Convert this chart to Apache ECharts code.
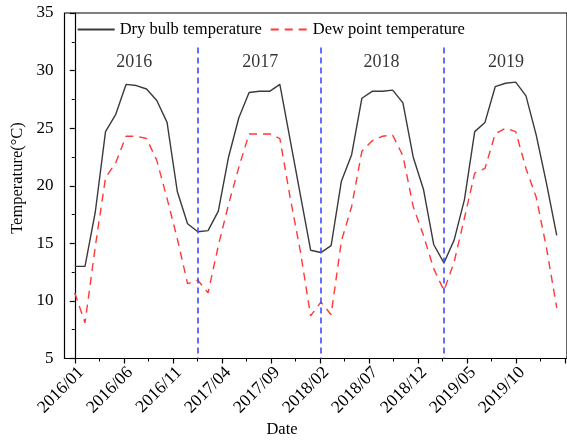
<!DOCTYPE html>
<html>
<head>
<meta charset="utf-8">
<script src="https://cdn.jsdelivr.net/npm/echarts@6/dist/echarts.min.js"></script>
<style>
  html, body { margin: 0; padding: 0; background: #fff; }
  #chart { width: 567px; height: 441px; }
</style>
</head>
<body>
<div id="chart"></div>
<script>
// Monthly mean temperatures, 2016/01 – 2019/12
const months = [
  '2016/01','2016/02','2016/03','2016/04','2016/05','2016/06','2016/07','2016/08','2016/09','2016/10','2016/11','2016/12',
  '2017/01','2017/02','2017/03','2017/04','2017/05','2017/06','2017/07','2017/08','2017/09','2017/10','2017/11','2017/12',
  '2018/01','2018/02','2018/03','2018/04','2018/05','2018/06','2018/07','2018/08','2018/09','2018/10','2018/11','2018/12',
  '2019/01','2019/02','2019/03','2019/04','2019/05','2019/06','2019/07','2019/08','2019/09','2019/10','2019/11','2019/12'
];

const dryBulb = [
  13.0, 13.0, 17.7, 24.7, 26.2, 28.8, 28.7, 28.4, 27.4, 25.5, 19.5, 16.7,
  16.0, 16.1, 17.8, 22.5, 25.9, 28.1, 28.2, 28.2, 28.8, 24.0, 19.2, 14.4,
  14.2, 14.8, 20.4, 22.7, 27.6, 28.2, 28.2, 28.3, 27.2, 22.5, 19.7, 14.9,
  13.3, 15.3, 18.8, 24.7, 25.5, 28.6, 28.9, 29.0, 27.8, 24.4, 20.2, 15.7
];

const dewPoint = [
  10.7,  8.1, 14.7, 20.7, 22.0, 24.3, 24.3, 24.1, 22.2, 18.9, 15.4, 11.5,
  11.8, 10.7, 14.8, 18.4, 21.6, 24.5, 24.5, 24.5, 24.1, 19.0, 14.3,  8.7,
   9.9,  8.8, 15.2, 18.2, 23.0, 23.9, 24.3, 24.4, 22.6, 18.2, 15.7, 12.8,
  10.9, 13.4, 17.2, 21.1, 21.5, 24.5, 25.0, 24.7, 21.5, 19.0, 14.6,  9.4
];

const years = ['2016', '2017', '2018', '2019'];

const FONT = 'Liberation Serif';

// year captions sit near the middle of each year's span
const yearAnchorX = [5.8, 18.1, 29.9, 42.05];
const yearAnchorY = 30.7;

// vertical separators at the first month of each new year
const dividers = years.slice(1).map(y => months.indexOf(y + '/01'));

const toPoints = arr => arr.map((v, i) => [i, v]);

const chart = echarts.init(document.getElementById('chart'), null, { renderer: 'canvas' });

chart.setOption({
  animation: false,
  backgroundColor: '#ffffff',
  grid: [
    // plotting frame
    { left: 64.5, top: 13, width: 506.7, height: 345.5, show: true, borderColor: '#000', borderWidth: 1.2, backgroundColor: 'transparent' },
    // date ticks (index 0 .. 50)
    { left: 74.84, top: 13, width: 517, height: 345.5, show: false }
  ],
  legend: {
    left: 76.7, top: 21, padding: 0,
    itemWidth: 37, itemHeight: 14, itemGap: 8,
    itemStyle: { opacity: 0 },
    textStyle: { fontFamily: FONT, fontSize: 16.5, color: '#000' },
    data: ['Dry bulb temperature', 'Dew point temperature']
  },
  xAxis: [
    {
      gridIndex: 0, type: 'value', min: -1, max: 48,
      axisLine: { show: true, lineStyle: { color: '#000', width: 1.2 } },
      axisTick: { show: false }, axisLabel: { show: false }, splitLine: { show: false }
    },
    {
      gridIndex: 1, type: 'value', min: 0, max: 50, interval: 5,
      axisLine: { show: false },
      axisTick: { show: true, inside: false, length: 5, lineStyle: { color: '#000', width: 1.2 } },
      minorTick: { show: true, splitNumber: 2, length: 3, lineStyle: { color: '#000', width: 1 } },
      splitLine: { show: false },
      axisLabel: {
        show: true, rotate: 45, margin: 5,
        align: 'right', verticalAlign: 'top',
        fontFamily: FONT, fontSize: 17.5, color: '#000',
        formatter: v => months[v] || ''
      }
    }
  ],
  yAxis: [
    {
      gridIndex: 0, type: 'value', min: 5, max: 35, interval: 5,
      axisLine: { show: true, lineStyle: { color: '#000', width: 1.2 } },
      axisTick: { show: true, inside: false, length: 5, lineStyle: { color: '#000', width: 1.2 } },
      minorTick: { show: true, splitNumber: 2, length: 3, lineStyle: { color: '#000', width: 1 } },
      splitLine: { show: false },
      axisLabel: { margin: 11, fontFamily: FONT, fontSize: 17, color: '#000' }
    },
    { gridIndex: 1, type: 'value', min: 5, max: 35, show: false }
  ],
  graphic: [
    {
      type: 'text', x: 18, y: 178, rotation: Math.PI / 2,
      style: { text: 'Temperature(°C)', fontFamily: FONT, fontSize: 16.5, fill: '#000', align: 'center', verticalAlign: 'middle' }
    },
    {
      type: 'text', x: 282, y: 430,
      style: { text: 'Date', fontFamily: FONT, fontSize: 16.5, fill: '#000', align: 'center', verticalAlign: 'middle' }
    }
  ],
  series: [
    {
      name: 'Dry bulb temperature', type: 'line', xAxisIndex: 0, yAxisIndex: 0,
      data: toPoints(dryBulb), symbol: 'none', showSymbol: false,
      lineStyle: { color: '#3a3a3a', width: 1.4 },
      itemStyle: { color: '#3a3a3a' },
      markLine: {
        silent: true, symbol: 'none', animation: false,
        label: { show: false },
        lineStyle: { color: '#3d4cff', width: 1.6, type: [6, 4] },
        data: dividers.map(i => [{ coord: [i, 32] }, { coord: [i, 5] }])
      },
      z: 3
    },
    {
      name: 'Dew point temperature', type: 'line', xAxisIndex: 0, yAxisIndex: 0,
      data: toPoints(dewPoint), symbol: 'none', showSymbol: false,
      lineStyle: { color: '#ff3838', width: 1.4, type: [8, 6] },
      itemStyle: { color: '#ff3838' },
      z: 3
    },
    {
      type: 'scatter', xAxisIndex: 0, yAxisIndex: 0, silent: true,
      symbolSize: 0,
      data: years.map((y, i) => ({ value: [yearAnchorX[i], yearAnchorY], name: y })),
      label: {
        show: true, position: 'inside', formatter: p => p.name,
        fontFamily: FONT, fontSize: 18, color: '#000'
      },
      z: 4
    }
  ]
});
</script>
</body>
</html>
